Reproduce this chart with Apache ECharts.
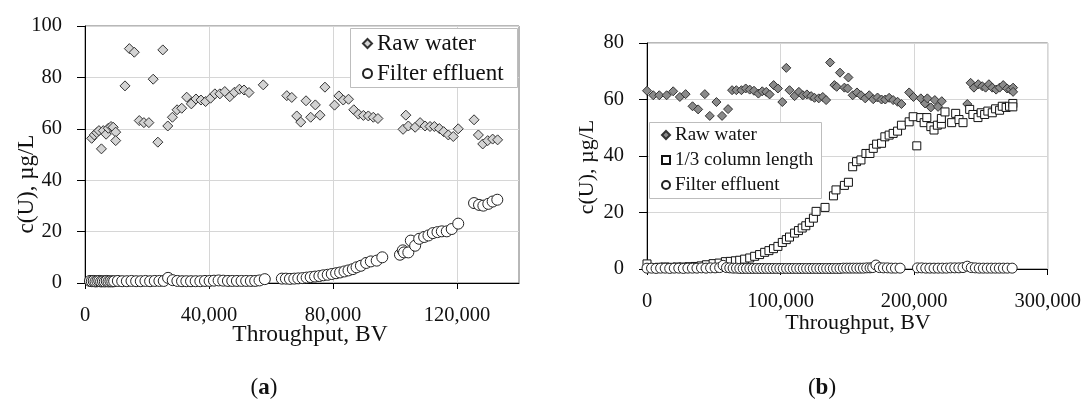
<!DOCTYPE html>
<html><head><meta charset="utf-8">
<script src="https://cdn.jsdelivr.net/npm/echarts@6/dist/echarts.min.js"></script>
<style>html,body{margin:0;padding:0;background:#fff}#c{width:1084px;height:403px}</style>
</head><body><div id="c"></div>
<script>
// ---------- Panel (a) ----------
const rawWaterA = [[2150,56.3],[3000,57.6],[3800,58.5],[4500,59.3],[5300,52.2],[5900,59.3],[6800,57.9],[7500,60.2],[8400,60.9],[9100,60.6],[9900,58.7],[9900,55.4],[12900,76.7],[14300,91.2],[15900,89.8],[17500,63.2],[19000,62.4],[20600,62.4],[22000,79.3],[23500,54.8],[25100,90.7],[26700,61.1],[28200,64.5],[29700,67.4],[31200,68.0],[32800,72.3],[34300,69.7],[35800,71.6],[37400,71.2],[38900,70.6],[40500,71.9],[41900,73.6],[43500,73.6],[45100,74.5],[46700,72.5],[48200,74.2],[49800,75.4],[51300,75.1],[52900,74.1],[57500,77.1],[65100,72.9],[66700,72.2],[68300,65.0],[69600,62.6],[71300,70.9],[72800,64.5],[74300,69.3],[75800,65.3],[77400,76.2],[80500,69.2],[81900,72.8],[83300,71.2],[85000,71.5],[86700,67.4],[88200,65.7],[89800,65.2],[91400,65.0],[93000,64.5],[94500,64.0],[102600,59.8],[103500,65.3],[104300,61.1],[106500,60.6],[108100,62.4],[109700,61.1],[111300,60.9],[112700,60.9],[114300,60.1],[115700,58.9],[117200,57.6],[118800,57.0],[120400,60.0],[125500,63.5],[126900,57.6],[128300,54.1],[129900,55.4],[131500,56.0],[133100,55.7]];
const effluentA = [[1600,0.8],[2200,0.7],[2800,0.8],[3400,0.6],[4000,0.7],[4600,0.8],[5200,0.6],[5800,0.7],[6400,0.6],[7000,0.8],[7600,0.6],[8200,0.7],[8800,0.6],[9400,0.7],[10600,0.8],[12000,0.7],[13500,0.7],[15000,0.8],[16500,0.7],[18000,0.7],[19500,0.8],[21000,0.7],[22500,0.8],[24000,0.8],[25400,0.8],[26800,2.0],[28300,1.1],[29800,0.8],[31300,0.7],[32700,0.7],[34200,0.7],[35700,0.7],[37200,0.7],[38700,0.8],[40200,0.8],[41600,0.9],[43100,1.0],[44600,0.9],[46100,0.8],[47500,0.8],[49000,0.8],[50500,0.8],[52000,0.8],[53500,0.8],[54900,0.8],[56300,1.0],[58000,1.5],[63500,1.7],[64800,1.7],[66100,1.6],[67500,1.7],[68800,1.8],[70200,1.9],[71500,2.1],[72800,2.3],[74200,2.5],[75600,2.7],[76900,3.0],[78300,3.2],[79600,3.5],[81000,3.8],[82300,4.1],[83700,4.5],[85000,4.9],[86400,5.4],[87600,6.1],[89000,6.7],[90700,7.8],[92200,8.4],[94100,8.7],[95900,10.0],[101600,11.0],[102500,12.7],[102900,11.9],[104300,11.9],[105100,16.5],[106500,14.5],[107800,17.2],[109400,17.9],[110800,18.5],[112200,19.4],[113700,19.8],[115100,20.1],[116700,20.1],[118300,21.0],[120400,23.1],[125500,31.1],[127100,30.4],[128500,30.1],[130100,30.8],[131500,31.7],[133000,32.4]];
const xTicksA = [0,40000,80000,120000];
const yTicksA = [0,20,40,60,80,100];

// ---------- Panel (b) ----------
const rawWaterB = [[0,63.1],[4700,61.5],[9200,61.5],[14700,61.5],[19600,62.9],[24600,60.9],[28900,61.9],[34100,57.6],[38300,56.5],[43300,61.9],[47000,54.2],[52000,59.1],[56200,54.2],[60700,56.6],[63700,63.3],[66900,63.3],[70700,63.3],[73900,63.9],[76900,63.5],[80100,63.1],[83400,62.1],[86300,62.9],[89300,62.7],[91800,61.8],[94800,65.1],[98000,63.9],[101300,59.1],[104300,71.2],[106700,63.3],[110500,61.2],[113700,62.7],[116700,61.5],[119700,61.8],[122900,61.2],[125400,60.6],[128600,60.4],[131600,60.9],[134100,59.8],[137100,73.1],[140300,65.1],[142000,64.5],[144500,69.5],[147800,64.2],[150200,63.9],[150800,67.8],[154000,61.5],[157200,62.5],[160200,61.5],[163400,60.4],[166400,61.5],[169400,60.1],[172600,60.7],[175600,60.0],[178400,60.0],[181300,60.6],[184300,59.8],[187600,59.2],[190500,58.4],[196300,62.5],[199500,60.9],[205000,60.4],[208200,58.6],[209900,60.4],[212500,57.2],[215500,59.8],[217900,57.4],[220700,59.4],[239800,58.4],[242300,65.9],[244800,64.2],[248000,65.4],[251000,64.7],[253500,64.2],[256000,65.4],[258500,64.2],[261400,63.5],[264000,64.2],[266700,65.1],[269600,63.9],[272100,63.5],[274100,64.2],[274100,62.7]];
const columnThirdB = [[0,1.8],[4500,0.5],[9000,0.6],[13500,0.7],[18000,0.6],[22500,0.7],[27000,0.7],[31500,0.8],[36000,0.9],[40500,1.1],[44500,1.5],[49500,1.9],[54000,2.1],[58700,2.6],[62400,2.7],[66200,2.9],[69400,3.1],[73100,3.5],[76900,3.9],[80600,4.5],[84300,5.1],[88100,5.9],[91300,6.5],[94700,7.2],[98000,8.0],[101300,9.4],[104300,10.4],[106700,11.3],[110500,12.7],[113400,13.6],[116200,14.5],[118900,15.3],[121600,16.5],[124600,18.0],[126600,20.4],[133300,21.8],[139600,25.9],[141500,28.0],[147800,29.6],[150800,30.7],[154000,36.2],[156900,38.0],[160200,38.6],[163900,40.9],[166900,40.9],[169400,42.7],[171900,44.2],[175600,44.5],[178100,46.8],[181300,47.4],[184300,48.0],[187600,48.8],[190500,50.9],[196300,52.1],[199300,53.9],[202000,43.6],[205000,53.6],[207500,51.8],[209500,53.6],[212500,50.4],[214900,49.2],[217400,50.9],[220400,51.3],[220400,53.3],[223100,55.6],[228100,51.8],[231100,55.1],[233600,52.9],[236600,51.8],[241600,56.5],[244000,54.7],[247800,53.6],[250200,55.3],[252800,54.7],[255200,55.9],[258500,55.3],[261000,56.7],[264000,56.2],[266000,57.6],[268900,57.2],[271400,57.6],[273900,58.6],[273900,57.4]];
const effluentB = [[0,0.3],[3400,0.3],[6800,0.2],[10200,0.3],[13600,0.3],[17000,0.2],[20400,0.3],[23800,0.3],[27200,0.2],[30600,0.3],[34000,0.3],[37400,0.3],[40800,0.4],[44200,0.3],[47600,0.4],[51000,0.4],[54400,0.5],[57000,1.3],[59500,0.5],[62000,0.4],[64500,0.3],[67000,0.3],[69500,0.2],[72000,0.2],[74500,0.2],[77000,0.2],[79500,0.2],[82000,0.2],[84500,0.2],[87000,0.2],[89500,0.2],[92000,0.2],[94500,0.2],[97000,0.2],[99500,0.2],[102000,0.2],[104500,0.2],[107000,0.2],[109500,0.2],[112000,0.2],[114500,0.2],[117000,0.2],[119500,0.2],[122000,0.2],[124500,0.2],[127000,0.2],[129500,0.2],[132000,0.2],[134500,0.2],[137000,0.2],[139500,0.2],[142000,0.2],[144500,0.2],[147000,0.3],[149500,0.3],[152000,0.3],[154500,0.3],[157000,0.3],[159500,0.3],[162000,0.3],[164500,0.4],[167000,0.4],[169000,0.5],[171400,1.4],[174000,0.5],[177000,0.4],[180000,0.4],[183000,0.3],[186000,0.3],[189500,0.3],[202500,0.4],[205600,0.4],[208700,0.3],[211800,0.3],[214900,0.3],[218000,0.3],[221100,0.3],[224200,0.3],[227300,0.4],[230400,0.4],[233500,0.4],[236600,0.5],[239800,1.0],[242800,0.5],[245800,0.4],[248800,0.3],[251800,0.3],[254800,0.3],[257800,0.3],[260800,0.3],[263800,0.3],[266800,0.3],[269800,0.3],[273400,0.3]];
const xTicksB = [0,100000,200000,300000];
const yTicksB = [0,20,40,60,80];

const FONT = '"Liberation Serif", "DejaVu Serif", serif';
const TXT = '#111';
const fmt = v => Number(v).toLocaleString('en-US');

function xAx(g, max, interval, ticks) {
  return {
    type: 'value', gridIndex: g, min: 0, max: max, interval: interval,
    axisLine: { show: true, onZero: false, lineStyle: { color: '#000', width: 1 } },
    axisTick: { show: true, customValues: ticks, length: 6, lineStyle: { color: '#000' } },
    axisLabel: { customValues: ticks, margin: 22, formatter: fmt, fontFamily: FONT, fontSize: 20.5, color: TXT },
    splitLine: { show: true, lineStyle: { color: '#d6d6d6', width: 1 } }
  };
}
function yAx(g, max, ticks) {
  return {
    type: 'value', gridIndex: g, min: 0, max: max, interval: 10,
    axisLine: { show: true, onZero: false, lineStyle: { color: '#000', width: 1 } },
    axisTick: { show: true, customValues: ticks, length: 8, lineStyle: { color: '#000' } },
    axisLabel: { customValues: ticks, margin: 23, fontFamily: FONT, fontSize: 20.5, color: TXT },
    splitLine: { show: true, lineStyle: { color: '#d6d6d6', width: 1 } }
  };
}
function sc(name, xi, data, symbol, size, fill, border) {
  return {
    name: name, type: 'scatter', xAxisIndex: xi, yAxisIndex: xi, data: data,
    symbol: symbol, symbolSize: size,
    itemStyle: { color: fill, borderColor: border, borderWidth: 1, opacity: 1 },
    emphasis: { disabled: true }, silent: true
  };
}

const chart = echarts.init(document.getElementById('c'));
chart.setOption({
  animation: false,
  backgroundColor: '#fff',
  grid: [
    { left: 85, top: 26, width: 434, height: 257, show: true, borderColor: '#707070', borderWidth: 1, backgroundColor: 'transparent' },
    { left: 647, top: 43, width: 402, height: 226, show: true, borderColor: '#707070', borderWidth: 1, backgroundColor: 'transparent' }
  ],
  xAxis: [ xAx(0, 140000, 20000, xTicksA), xAx(1, 300000, 50000, xTicksB) ],
  yAxis: [ yAx(0, 100, yTicksA), yAx(1, 80, yTicksB) ],
  legend: [
    { data: ['Raw water', 'Filter effluent'], left: 350, top: 28, orient: 'vertical',
      padding: [4, 5, 4, 12], itemWidth: 9, itemHeight: 9, itemGap: 7, z: 20,
      textStyle: { fontFamily: FONT, fontSize: 23, lineHeight: 22, color: TXT }, selectedMode: false },
    { data: ['Raw water ', '1/3 column length', 'Filter effluent '], left: 649, top: 123, orient: 'vertical',
      padding: [2.5, 5, 2, 12], itemWidth: 8, itemHeight: 8, itemGap: 6, z: 20,
      textStyle: { fontFamily: FONT, fontSize: 19, lineHeight: 19, color: TXT }, selectedMode: false }
  ],
  graphic: [
    { type: 'rect', z: 10, shape: { x: 350.5, y: 28.5, width: 167, height: 59 }, style: { fill: '#fff', stroke: '#bdbdbd', lineWidth: 1 } },
    { type: 'rect', z: 10, shape: { x: 649.5, y: 122.5, width: 172, height: 76 }, style: { fill: '#fff', stroke: '#bdbdbd', lineWidth: 1 } },
    { type: 'text', x: 27, y: 184, rotation: Math.PI / 2, style: { text: 'c(U), µg/L', fontFamily: FONT, fontSize: 23, fill: TXT, align: 'center', verticalAlign: 'middle' } },
    { type: 'text', x: 587, y: 167, rotation: Math.PI / 2, style: { text: 'c(U), µg/L', fontFamily: FONT, fontSize: 22, fill: TXT, align: 'center', verticalAlign: 'middle' } },
    { type: 'text', x: 310, y: 335, style: { text: 'Throughput, BV', fontFamily: FONT, fontSize: 23.5, fill: TXT, align: 'center', verticalAlign: 'middle' } },
    { type: 'text', x: 858, y: 323, style: { text: 'Throughput, BV', fontFamily: FONT, fontSize: 22, fill: TXT, align: 'center', verticalAlign: 'middle' } },
    { type: 'text', x: 264, y: 388, style: { text: '{p|(}{b|a}{p|)}', align: 'center', verticalAlign: 'middle',
        rich: { p: { fontFamily: FONT, fontSize: 23, fill: TXT }, b: { fontFamily: FONT, fontSize: 23, fontWeight: 'bold', fill: TXT } } } },
    { type: 'text', x: 822, y: 388, style: { text: '{p|(}{b|b}{p|)}', align: 'center', verticalAlign: 'middle',
        rich: { p: { fontFamily: FONT, fontSize: 23, fill: TXT }, b: { fontFamily: FONT, fontSize: 23, fontWeight: 'bold', fill: TXT } } } }
  ],
  series: [
    sc('Raw water', 0, rawWaterA, 'diamond', 10, '#d3d3d3', '#333'),
    sc('Filter effluent', 0, effluentA, 'circle', 11, '#fff', '#222'),
    sc('Raw water ', 1, rawWaterB, 'diamond', 9, '#8a8a8a', '#333'),
    sc('1/3 column length', 1, columnThirdB, 'rect', 8, '#fff', '#111'),
    sc('Filter effluent ', 1, effluentB, 'circle', 10, '#fff', '#222')
  ]
});
</script></body></html>
